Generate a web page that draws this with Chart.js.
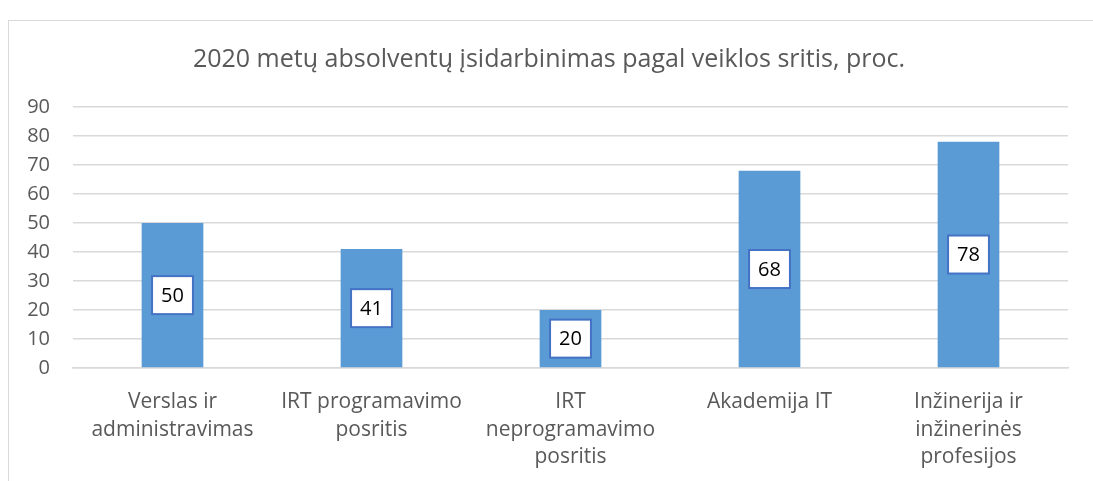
<!DOCTYPE html>
<html>
<head>
<meta charset="utf-8">
<script src="https://cdn.jsdelivr.net/npm/chart.js@4/dist/chart.umd.min.js"></script>
<style>
  html, body { margin: 0; padding: 0; background: #ffffff; overflow: hidden; }
  #frame { position: absolute; left: 8px; top: 20px; width: 1200px; height: 600px; border: 1.5px solid #d9d9d9; }
  #wrap { position: absolute; left: 0; top: 0; width: 1093px; height: 481px; }
</style>
</head>
<body>
<div id="frame"></div>
<div id="wrap"><canvas id="c" width="1093" height="481"></canvas></div>
<script>
const titleText = '2020 metų absolventų įsidarbinimas pagal veiklos sritis, proc.';
const categories = [
  ['Verslas ir', 'administravimas'],
  ['IRT programavimo', 'posritis'],
  ['IRT', 'neprogramavimo', 'posritis'],
  ['Akademija IT'],
  ['Inžinerija ir', 'inžinerinės', 'profesijos']
];
const values = [50, 41, 20, 68, 78];
const yTicks = [0, 10, 20, 30, 40, 50, 60, 70, 80, 90];

const FONT = '"Open Sans", sans-serif';

const labelBoxes = {
  id: 'labelBoxes',
  afterDatasetsDraw(chart) {
    const ctx = chart.ctx;
    const meta = chart.getDatasetMeta(0);
    ctx.save();
    ctx.font = '20px ' + FONT;
    meta.data.forEach((bar, i) => {
      const txt = String(chart.data.datasets[0].data[i]);
      const cy = (bar.y + bar.base) / 2;
      const tw = ctx.measureText(txt).width;
      const w = tw + 18, h = 38;
      ctx.fillStyle = '#ffffff';
      ctx.fillRect(bar.x - w / 2, cy - h / 2, w, h);
      ctx.strokeStyle = '#4472C4';
      ctx.lineWidth = 2;
      ctx.strokeRect(bar.x - w / 2, cy - h / 2, w, h);
      ctx.fillStyle = '#000000';
      ctx.textAlign = 'center';
      ctx.textBaseline = 'middle';
      ctx.fillText(txt, bar.x, cy + 1);
    });
    ctx.restore();
  }
};

// shift the title's horizontal span so it is centred like the reference
const titleShift = {
  id: 'titleShift',
  afterLayout(chart) {
    if (chart.titleBlock) { chart.titleBlock.left = 30; }
  }
};

new Chart(document.getElementById('c'), {
  type: 'bar',
  data: {
    labels: categories,
    datasets: [{
      data: values,
      backgroundColor: '#5B9BD5',
      borderWidth: 0,
      categoryPercentage: 1,
      barPercentage: 0.31
    }]
  },
  plugins: [labelBoxes, titleShift],
  options: {
    responsive: false,
    animation: false,
    layout: { padding: { left: 0, right: 25, top: 0, bottom: 0 } },
    plugins: {
      legend: { display: false },
      tooltip: { enabled: false },
      title: {
        display: true,
        text: titleText,
        color: '#595959',
        font: { family: FONT, size: 25, weight: 'normal' },
        padding: { top: 45, bottom: 32 }
      }
    },
    scales: {
      x: {
        grid: { display: false, drawTicks: false },
        border: { display: true, color: '#d9d9d9', width: 1.5 },
        ticks: {
          color: '#595959',
          font: { family: FONT, size: 21, lineHeight: 1.32 },
          padding: 20,
          maxRotation: 0,
          autoSkip: false
        },
        afterFit(scale) { scale.height = 113; }
      },
      y: {
        min: 0,
        max: 90,
        afterBuildTicks(scale) { scale.ticks = yTicks.map(v => ({ value: v })); },
        grid: { color: '#d9d9d9', lineWidth: 1.5, drawTicks: false },
        border: { display: false },
        ticks: {
          color: '#595959',
          font: { family: FONT, size: 20 },
          padding: 23
        },
        afterFit(scale) { scale.width = 73; }
      }
    }
  }
});
</script>
</body>
</html>
